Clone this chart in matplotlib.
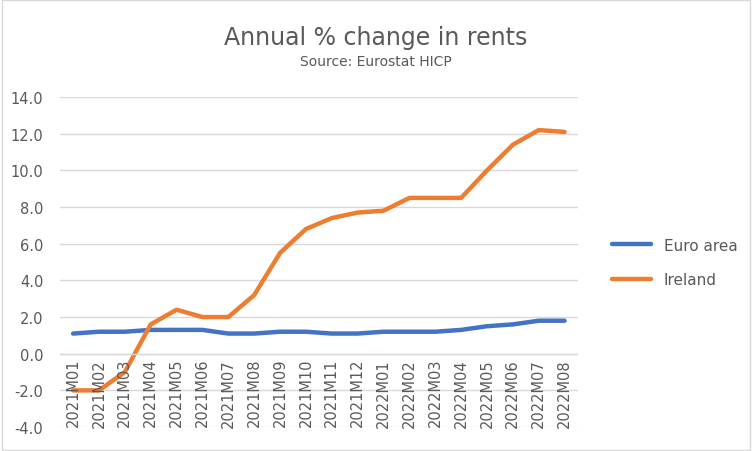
import matplotlib.pyplot as plt
from matplotlib.patches import Rectangle

months = ["2021M01","2021M02","2021M03","2021M04","2021M05","2021M06","2021M07","2021M08","2021M09","2021M10",
          "2021M11","2021M12","2022M01","2022M02","2022M03","2022M04","2022M05","2022M06","2022M07","2022M08"]
euro = [1.1,1.2,1.2,1.3,1.3,1.3,1.1,1.1,1.2,1.2,1.1,1.1,1.2,1.2,1.2,1.3,1.5,1.6,1.8,1.8]
ireland = [-2.0,-2.0,-1.0,1.6,2.4,2.0,2.0,3.2,5.5,6.8,7.4,7.7,7.8,8.5,8.5,8.5,10.0,11.4,12.2,12.1]
yticks = [-4,-2,0,2,4,6,8,10,12,14]

plt.rcParams['font.family'] = 'DejaVu Sans'
fig = plt.figure(figsize=(7.52,4.52), dpi=100)
fig.patches.append(Rectangle((0.002,0.002),0.996,0.996,transform=fig.transFigure,fill=False,edgecolor='#d9d9d9',lw=1))
ax = fig.add_axes([0.08,0.053,0.688,0.73])
x = list(range(len(months)))
ax.plot(x, euro, color='#4472c4', lw=3.2, label='Euro area', solid_capstyle='round')
ax.plot(x, ireland, color='#ed7d31', lw=3.2, label='Ireland', solid_capstyle='round')
ax.set_xlim(-0.5, len(months)-0.5)
ax.set_ylim(-4,14)
ax.set_yticks(yticks)
ax.set_yticklabels([f"{v:.1f}" for v in yticks], color='#595959', fontsize=10.5)
ax.yaxis.grid(True, color='#d9d9d9', lw=1)
ax.set_axisbelow(True)
ax.tick_params(axis='y', length=0, pad=12)
ax.set_xticks([])
for s in ax.spines.values():
    s.set_visible(False)
ax.axhline(0, color='#d9d9d9', lw=1)
for i, m in enumerate(months):
    ax.text(i, -2.1, m, rotation=90, ha='center', va='center', fontsize=10.5, color='#595959')
fig.text(0.5, 0.915, 'Annual % change in rents', ha='center', va='center', fontsize=17, color='#595959')
fig.text(0.5, 0.862, 'Source: Eurostat HICP', ha='center', va='center', fontsize=10, color='#595959')
fig.legend(loc='center left', bbox_to_anchor=(0.795,0.417), frameon=False, fontsize=11,
           labelcolor='#595959', handlelength=2.6, labelspacing=1.3)
fig.savefig('out.png', dpi=100)
